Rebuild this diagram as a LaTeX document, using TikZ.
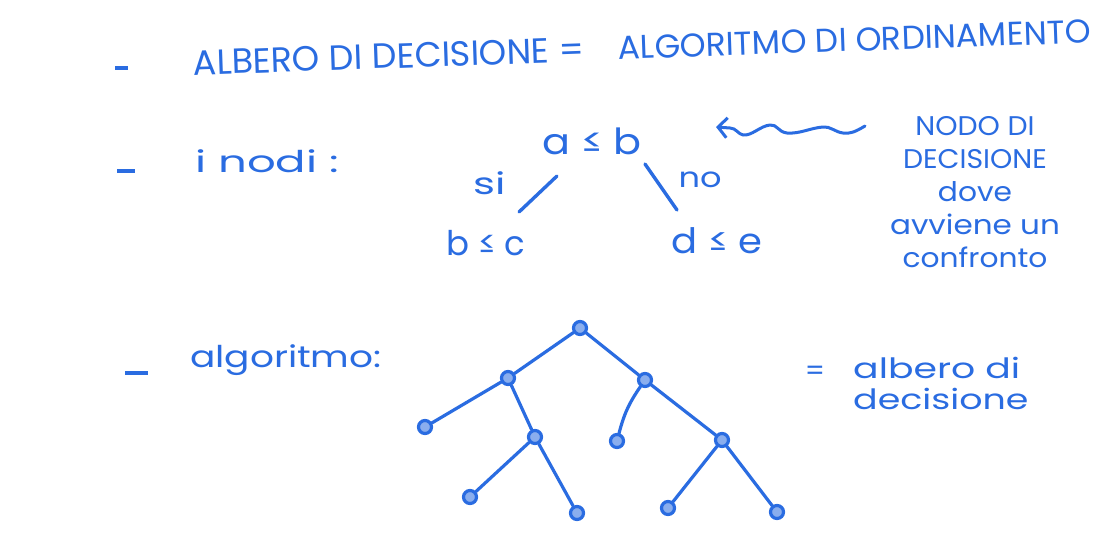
\documentclass[tikz,border=0pt]{standalone}
\usepackage{fontspec}
\usepackage{graphicx}
\setmainfont{Poppins}
\usetikzlibrary{arrows.meta}
\definecolor{ink}{RGB}{42,108,225}
\newcommand{\fs}[1]{\fontsize{#1}{#1}\selectfont}
\begin{document}
\begin{tikzpicture}[x=1pt,y=-1pt,
  every node/.style={text=ink,inner sep=0pt},
  pen/.style={draw=ink,line width=3.4pt,line cap=round,line join=round},
  treeline/.style={draw=ink,line width=3.2pt,line cap=round},
  titletext/.style={font=\fs{35}},
  dot/.style={circle,draw=ink,fill=ink!55,line width=3.2pt,minimum size=13pt,inner sep=0pt},
  bullet/.style={draw=ink,line width=4.5pt}]
\useasboundingbox (0,0) rectangle (1098,536);
\fill[white] (0,0) rectangle (1098,536);
% dashes
\coordinate (d1a) at (115,68); \coordinate (d1b) at (128,68);
\coordinate (d2a) at (117,171); \coordinate (d2b) at (135,171);
\coordinate (d3a) at (125,373); \coordinate (d3b) at (148,373);
\draw[bullet] (d1a) -- (d1b);
\draw[bullet] (d2a) -- (d2b);
\draw[bullet] (d3a) -- (d3b);
% title
\node[titletext,anchor=west,rotate=2] (t1) at (193,63) {ALBERO DI DECISIONE =};
\node[anchor=west,rotate=2,font=\fs{33}] (t2) at (618,48) {ALGORITMO DI ORDINAMENTO};
% i nodi
\node[font=\fs{30},anchor=west] (nodi) at (195,161) {\scalebox{1.5}[1]{i nodi :}};
\node[font=\fs{36}] (ab) at (592,141) {\scalebox{1.15}[1]{a ≤ b}};
\node[font=\fs{34}] (bc) at (486,243) {b ≤ c};
\node[font=\fs{35}] (de) at (717,241) {\scalebox{1.1}[1]{d ≤ e}};
\node[font=\fs{30}] (si) at (490,183) {\scalebox{1.4}[1]{si}};
\node[font=\fs{28}] (no) at (700,180) {\scalebox{1.2}[1]{no}};
\coordinate (l1) at (557,176); \coordinate (l2) at (519,212);
\coordinate (r1) at (645,164); \coordinate (r2) at (677,210);
\draw[pen] (l1) -- (l2);
\draw[pen] (r1) -- (r2);
% wavy arrow
\coordinate (wa) at (865,126); \coordinate (wb) at (716,127);
\draw[pen,line width=3pt,-{Straight Barb[length=9pt,width=20pt,line width=3pt]}]
  (wa) .. controls (855,132) and (850,134) .. (843,133)
       .. controls (835,132) and (830,126) .. (823,127)
       .. controls (810,128) and (800,134) .. (787,133)
       .. controls (778,132) and (777,124) .. (770,125)
       .. controls (760,126) and (752,136) .. (743,135)
       .. controls (738,134) and (736,128) .. (730,128) -- (wb);
\node[align=center,font=\fs{27}] (nd) at (975,192)
  {\scalebox{1.05}[1]{NODO DI}\\[6pt]\scalebox{1.05}[1]{DECISIONE}\\[6pt]\scalebox{1.1}[1]{dove}\\[6pt]\scalebox{1.15}[1]{avviene un}\\[6pt]\scalebox{1.1}[1]{confronto}};
% algoritmo
\node[font=\fs{30},anchor=west] (alg) at (190,360) {\scalebox{1.25}[1]{algoritmo:}};
\node[dot] (n0) at (580,328) {};
\node[dot] (n1) at (508,378) {};
\node[dot] (n2) at (645,380) {};
\node[dot] (n3) at (425,427) {};
\node[dot] (n4) at (535,437) {};
\node[dot] (n5) at (617,441) {};
\node[dot] (n6) at (722,440) {};
\node[dot] (n7) at (470,497) {};
\node[dot] (n8) at (577,513) {};
\node[dot] (n9) at (668,508) {};
\node[dot] (n10) at (777,512) {};
\draw[treeline] (n0) -- (n1);
\draw[treeline] (n0) -- (n2);
\draw[treeline] (n1) -- (n3);
\draw[treeline] (n1) -- (n4);
\draw[treeline] (n2) to[bend right=10] (n5);
\draw[treeline] (n2) -- (n6);
\draw[treeline] (n4) -- (n7);
\draw[treeline] (n4) -- (n8);
\draw[treeline] (n6) -- (n9);
\draw[treeline] (n6) -- (n10);
\node[font=\fs{28}] (eq) at (815,373) {=};
\node[anchor=west,font=\fs{28}] (ad1) at (853,368) {\scalebox{1.35}[1]{albero di}};
\node[anchor=west,font=\fs{28}] (ad2) at (853,399) {\scalebox{1.3}[1]{decisione}};
\end{tikzpicture}
\end{document}
